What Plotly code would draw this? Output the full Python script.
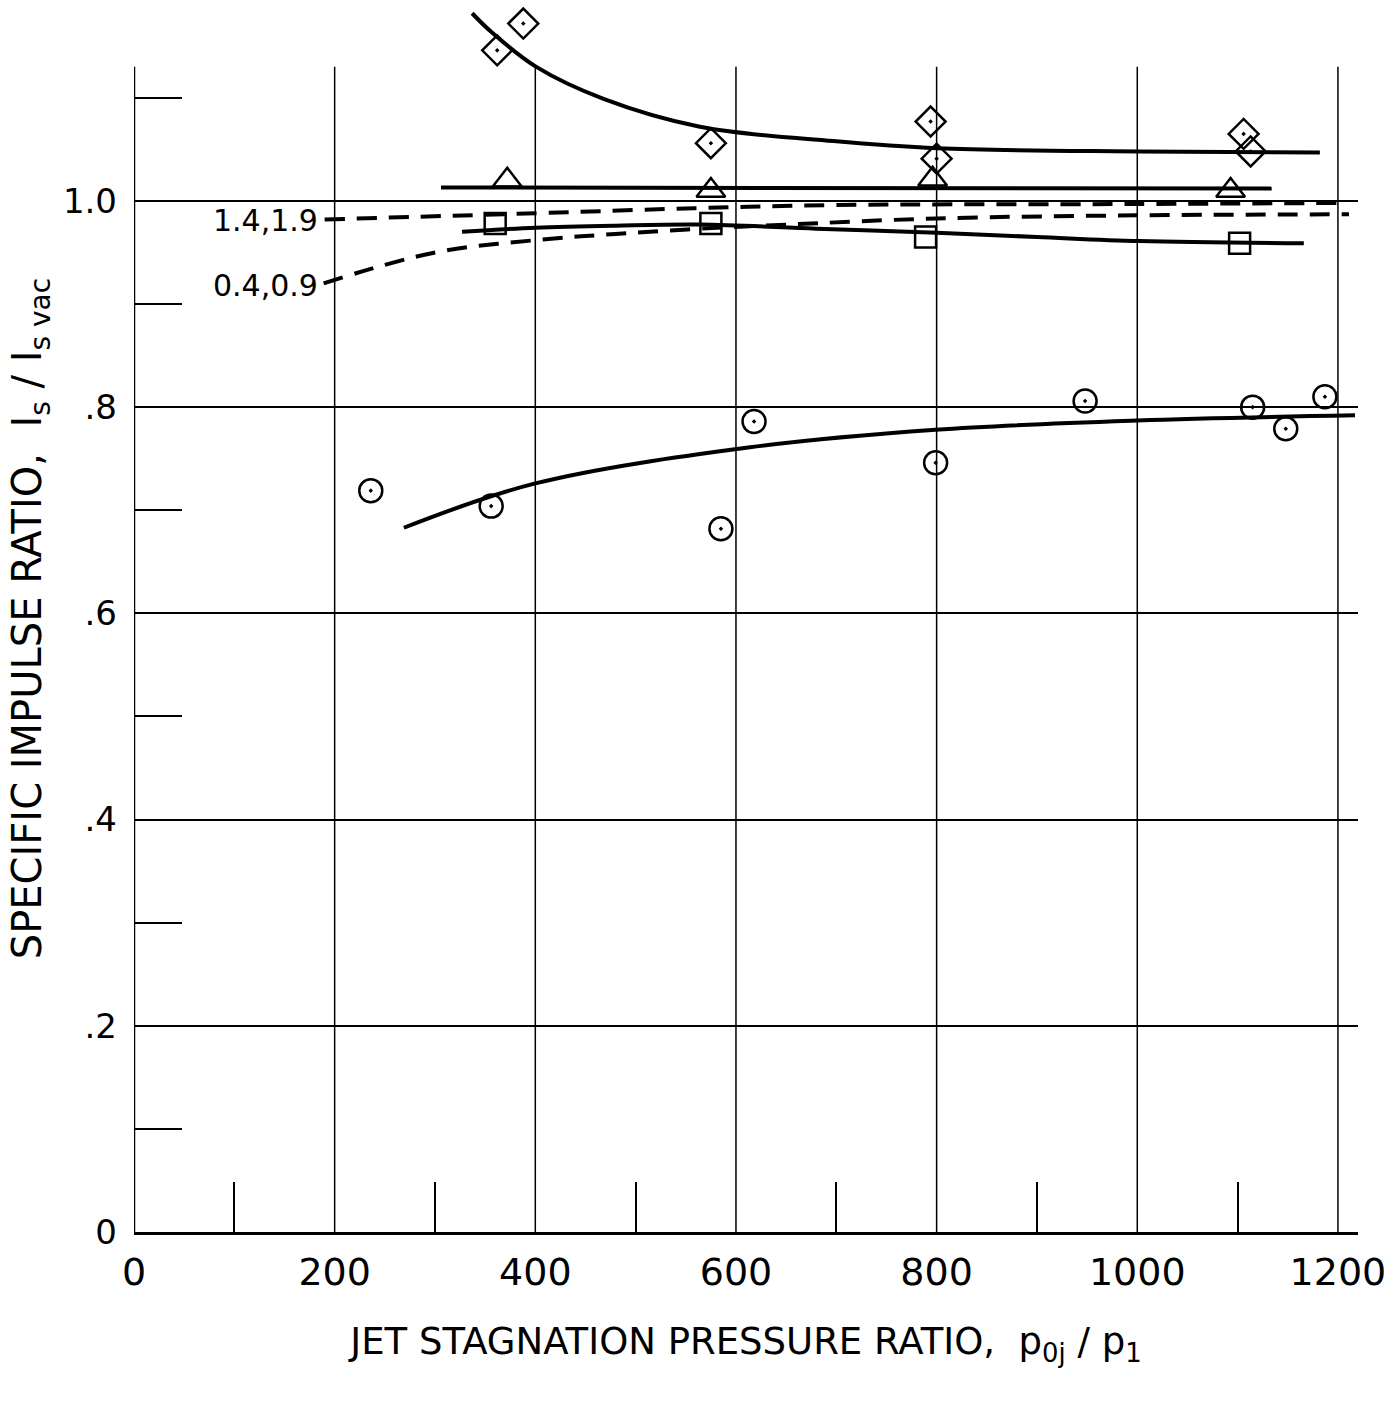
import plotly.graph_objects as go

# ---------------- data ----------------
DIAMOND_X = [362, 388, 575, 794, 800, 1106, 1113]
DIAMOND_Y = [1.146, 1.172, 1.056, 1.077, 1.041, 1.065, 1.048]
TRIANGLE_X = [372, 575, 796, 1093]
TRIANGLE_Y = [1.020, 1.010, 1.021, 1.010]
SQUARE_X = [360, 575, 789, 1102]
SQUARE_Y = [0.978, 0.978, 0.965, 0.959]
CIRCLE_X = [236, 356, 585, 618, 799, 948, 1115, 1148, 1187]
CIRCLE_Y = [0.719, 0.704, 0.682, 0.786, 0.746, 0.806, 0.800, 0.779, 0.810]

DIAMOND_FIT_X = [337, 356, 401, 468, 564, 697, 801, 1002, 1182]
DIAMOND_FIT_Y = [1.182, 1.164, 1.130, 1.099, 1.072, 1.058, 1.051, 1.048, 1.047]
TRIANGLE_FIT_X = [306, 1134]
TRIANGLE_FIT_Y = [1.013, 1.012]
SQUARE_FIT_X = [327, 400, 480, 565, 680, 800, 900, 1002, 1166]
SQUARE_FIT_Y = [0.970, 0.974, 0.976, 0.977, 0.973, 0.969, 0.965, 0.961, 0.959]
CIRCLE_FIT_X = [269, 400, 614, 799, 1000, 1217]
CIRCLE_FIT_Y = [0.683, 0.726, 0.761, 0.778, 0.787, 0.792]

DASH_HI_X = [190, 400, 560, 700, 1000, 1200]
DASH_HI_Y = [0.982, 0.988, 0.993, 0.996, 0.997, 0.998]
DASH_LO_X = [189, 250, 311, 401, 480, 564, 650, 800, 1000, 1211]
DASH_LO_Y = [0.920, 0.938, 0.952, 0.962, 0.968, 0.973, 0.977, 0.983, 0.986, 0.987]

DASH_LABELS = ["1.4,1.9", "0.4,0.9"]
DASH_LABEL_X = [185, 185]
DASH_LABEL_Y = [0.981, 0.918]

X_TICKS = [0, 200, 400, 600, 800, 1000, 1200]
X_TICK_TEXT = ["0", "200", "400", "600", "800", "1000", "1200"]
X_MINOR = [100, 300, 500, 700, 900, 1100]
Y_TICKS = [0, 0.2, 0.4, 0.6, 0.8, 1.0]
Y_TICK_TEXT = ["0", ".2", ".4", ".6", ".8", "1.0"]
Y_MINOR = [0.1, 0.3, 0.5, 0.7, 0.9, 1.1]
FRAME_TOP = 1.13

FONT = "DejaVu Sans, Roboto, sans-serif"

fig = go.Figure()

def fit(x, y, dash="solid"):
    fig.add_trace(go.Scatter(
        x=x, y=y, mode="lines",
        line=dict(color="black", width=4, shape="spline", smoothing=1.0, dash=dash),
        hoverinfo="skip", showlegend=False))

def pts(x, y, symbol, size):
    fig.add_trace(go.Scatter(
        x=x, y=y, mode="markers", cliponaxis=False,
        marker=dict(symbol=symbol, size=size, color="black",
                    line=dict(color="black", width=2.5)),
        showlegend=False))

fit(DIAMOND_FIT_X, DIAMOND_FIT_Y)
fit(TRIANGLE_FIT_X, TRIANGLE_FIT_Y)
fit(SQUARE_FIT_X, SQUARE_FIT_Y)
fit(CIRCLE_FIT_X, CIRCLE_FIT_Y)
fit(DASH_HI_X, DASH_HI_Y, dash="20px,12px")
fit(DASH_LO_X, DASH_LO_Y, dash="20px,12px")

pts(DIAMOND_X, DIAMOND_Y, "diamond-open-dot", 23)
pts(TRIANGLE_X, TRIANGLE_Y, "triangle-up-open", 25)
pts(SQUARE_X, SQUARE_Y, "square-open", 21)
pts(CIRCLE_X, CIRCLE_Y, "circle-open-dot", 23)

shapes = []
for gx in X_TICKS[1:]:
    shapes.append(dict(type="line", xref="x", yref="y", x0=gx, x1=gx, y0=0, y1=FRAME_TOP,
                       line=dict(color="black", width=1.5), layer="below"))
shapes.append(dict(type="line", xref="x", yref="y", x0=0, x1=0, y0=0, y1=FRAME_TOP,
                   line=dict(color="black", width=2.5), layer="below"))

annotations = []
for t, ax, ay in zip(DASH_LABELS, DASH_LABEL_X, DASH_LABEL_Y):
    annotations.append(dict(x=ax, y=ay, xref="x", yref="y", text=t, showarrow=False,
                            xanchor="right", yanchor="middle",
                            font=dict(size=30, color="black", family=FONT)))

fig.update_layout(
    width=1395, height=1419,
    margin=dict(l=134, r=37, t=5, b=187),
    paper_bgcolor="white", plot_bgcolor="white",
    showlegend=False,
    shapes=shapes, annotations=annotations,
    font=dict(family=FONT, color="black"),
    xaxis=dict(
        range=[0, 1220], tickmode="array", tickvals=X_TICKS, ticktext=X_TICK_TEXT,
        ticks="", showgrid=False, zeroline=False,
        showline=True, linecolor="black", linewidth=3,
        ticklabelstandoff=4,
        tickfont=dict(size=38, family=FONT),
        minor=dict(tickmode="array", tickvals=X_MINOR, ticks="inside", ticklen=50,
                   tickwidth=1.5, tickcolor="black", showgrid=False),
        title=dict(text="JET STAGNATION PRESSURE RATIO,  p<sub>0j</sub> / p<sub>1</sub>",
                   font=dict(size=37, family=FONT), standoff=36),
    ),
    yaxis=dict(
        range=[0, 1.19], tickmode="array", tickvals=Y_TICKS, ticktext=Y_TICK_TEXT,
        ticks="", showgrid=True, gridcolor="black", gridwidth=1.5, zeroline=False,
        showline=False,
        ticklabelstandoff=16,
        tickfont=dict(size=34, family=FONT),
        minor=dict(tickmode="array", tickvals=Y_MINOR, ticks="inside", ticklen=48,
                   tickwidth=1.5, tickcolor="black", showgrid=False),
        title=dict(text="SPECIFIC IMPULSE RATIO,  I<sub>s</sub> / I<sub>s vac</sub>",
                   font=dict(size=40, family=FONT), standoff=8),
    ),
)

fig.write_html("out.html")
